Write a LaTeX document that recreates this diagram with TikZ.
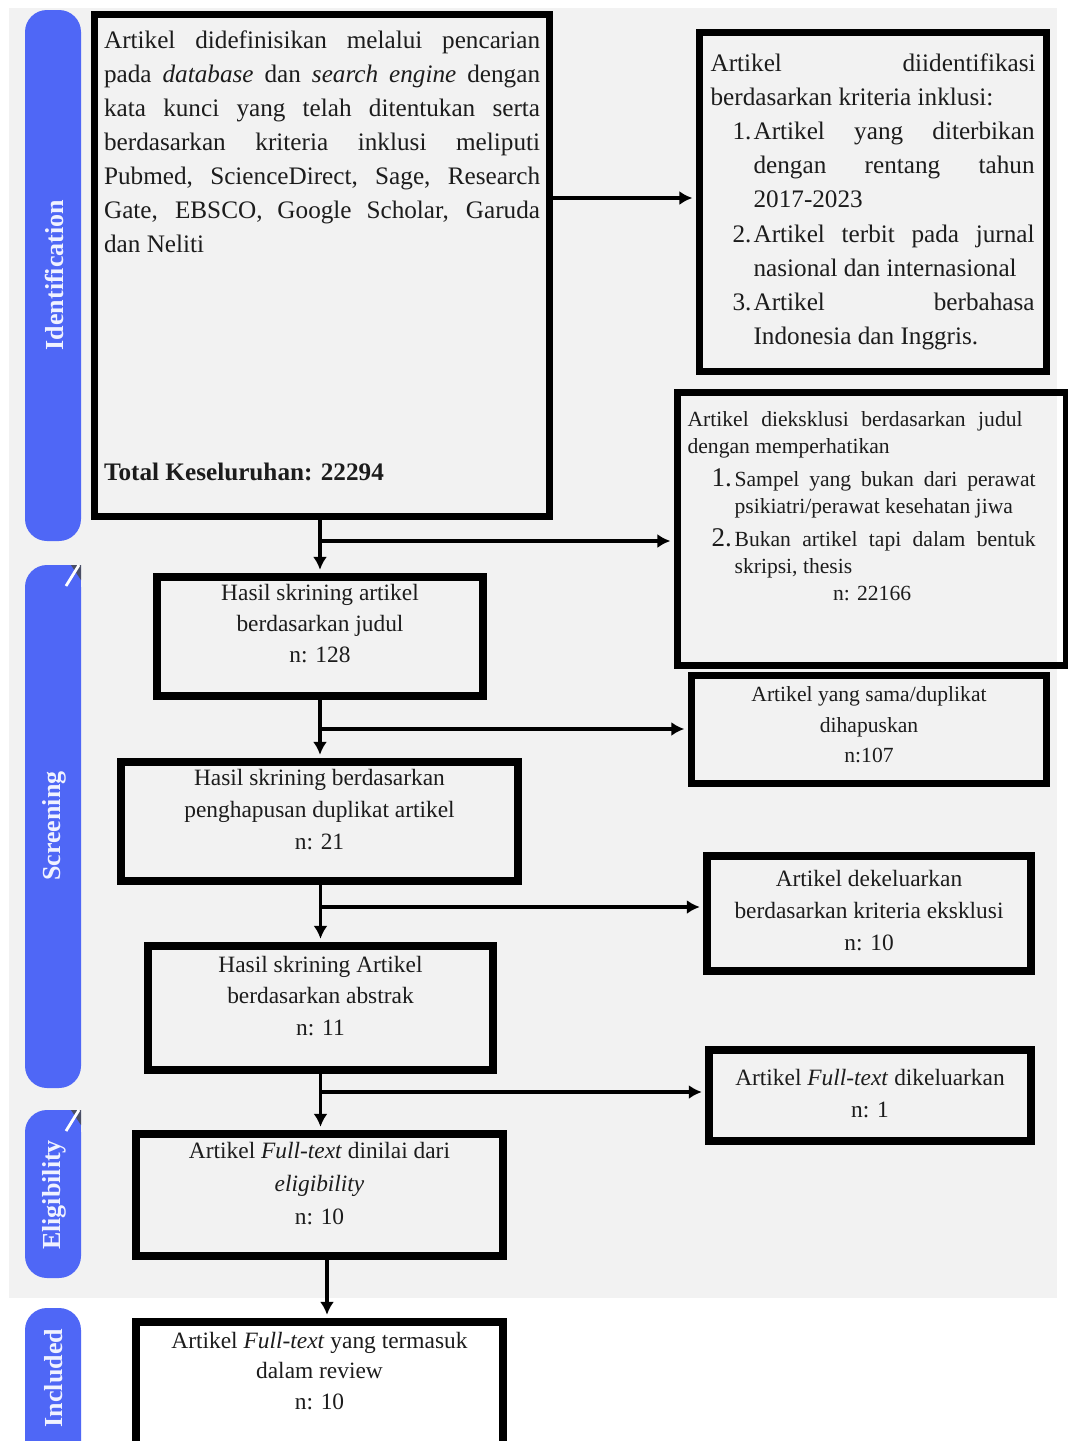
\documentclass[tikz,border=0pt]{standalone}
\usepackage{fontspec}
\setmainfont{Liberation Serif}
\usetikzlibrary{arrows.meta}
\definecolor{bgray}{HTML}{F2F2F2}
\definecolor{barblue}{HTML}{4F67F6}
\definecolor{txt}{HTML}{1C1C1C}
\definecolor{bartxt}{HTML}{F0F2FF}
\definecolor{foldc}{HTML}{4A4E66}
\newcommand\ftx[6]{\parbox[c][#2][c]{#1}{\centering\fontsize{#3}{#4}\selectfont #6\par\vspace{#5}\hrule height 0pt}}
\newcommand\jl[2]{\makebox[#1][s]{#2}}
\begin{document}
\begin{tikzpicture}[x=0.5pt,y=-0.5pt,
  box/.style={draw=black, line width=3.6pt, inner xsep=0pt, inner ysep=0pt, text=txt},
  arr/.style={draw=black, line width=1.6pt, -{Latex[length=6.5pt,width=7pt]}, shorten >=1.8pt},
  bar/.style={fill=barblue, rounded corners=11pt},
  bartext/.style={text=bartxt, font=\fontsize{13pt}{13pt}\selectfont\bfseries, rotate=90, inner sep=0pt},
]
\useasboundingbox (0,0) rectangle (1067,1441);
\fill[white] (0,0) rectangle (1067,1441);
\fill[bgray] (9,8) rectangle (1057,1298);

% phase bars
\fill[bar] (25,10) rectangle (81,541);
\fill[bar] (25,565) rectangle (81,1088);
\fill[barblue] (60,565) rectangle (81,590);
\fill[foldc] (71,565) -- (81,565) -- (81,580) -- cycle;
\draw[white, line width=1.4pt] (66,586) -- (79,565);
\fill[bar] (25,1110) rectangle (81,1278);
\fill[barblue] (60,1110) rectangle (81,1135);
\fill[foldc] (71,1110) -- (81,1110) -- (81,1125) -- cycle;
\draw[white, line width=1.4pt] (66,1131) -- (79,1110);
\fill[bar] (25,1308) rectangle (81,1470);

\node[bartext] (lid) at (54,275) {Identification};
\node[bartext] (lsc) at (54,826) {Screening};
\node[bartext] (lel) at (54,1195) {Eligibility};
\node[bartext] (lin) at (54,1378) {Included};

% box A
\node[box, inner xsep=4.75pt, anchor=north west] (A) at (91,11) {\parbox[c][251pt][t]{218pt}{\fontsize{12.6pt}{17pt}\selectfont\vspace*{7.9pt}%
\jl{\linewidth}{Artikel didefinisikan melalui pencarian}\par
\jl{\linewidth}{pada \textit{database} dan \textit{search engine} dengan}\par
\jl{\linewidth}{kata kunci yang telah ditentukan serta}\par
\jl{\linewidth}{berdasarkan kriteria inklusi meliputi}\par
\jl{\linewidth}{Pubmed, ScienceDirect, Sage, Research}\par
\jl{\linewidth}{Gate, EBSCO, Google Scholar, Garuda}\par
dan Neliti\par
\vspace{97pt}
\textbf{Total Keseluruhan: 22294}}};

% box B
\node[box, inner xsep=5.5pt, anchor=north west] (B) at (696,29) {\parbox[c][169.5pt][t]{162.5pt}{\fontsize{12.6pt}{17.1pt}\selectfont\vspace*{10.4pt}%
\jl{\linewidth}{Artikel diidentifikasi}\par
berdasarkan kriteria inklusi:\par
\hspace*{11pt}\makebox[10.5pt][l]{1.}\jl{140.5pt}{Artikel yang diterbikan}\par
\hspace*{21.5pt}\jl{140.5pt}{dengan rentang tahun}\par
\hspace*{21.5pt}2017-2023\par
\hspace*{11pt}\makebox[10.5pt][l]{2.}\jl{140.5pt}{Artikel terbit pada jurnal}\par
\hspace*{21.5pt}nasional dan internasional\par
\hspace*{11pt}\makebox[10.5pt][l]{3.}\jl{140.5pt}{Artikel berbahasa}\par
\hspace*{21.5pt}Indonesia dan Inggris.}};

% box C
\node[box, inner xsep=5pt, anchor=north west] (C) at (674,389) {\parbox[c][136.5pt][t]{184.5pt}{\fontsize{10.8pt}{13.5pt}\selectfont\vspace*{9.6pt}%
\jl{167.5pt}{Artikel dieksklusi berdasarkan judul}\par
dengan memperhatikan\par
\vspace{3pt}
\hspace*{12pt}\makebox[11.5pt][l]{\fontsize{13.5pt}{14pt}\selectfont 1.}\jl{150.5pt}{Sampel yang bukan dari perawat}\par
\hspace*{23.5pt}psikiatri/perawat kesehatan jiwa\par
\vspace{3pt}
\hspace*{12pt}\makebox[11.5pt][l]{\fontsize{13.5pt}{14pt}\selectfont 2.}\jl{150.5pt}{Bukan artikel tapi dalam bentuk}\par
\hspace*{23.5pt}skripsi, thesis\par
{\centering n: 22166\par}}};

% flow boxes
\node[box] (D) at (320,636.5) {\ftx{163pt}{59.5pt}{11.7pt}{15.5pt}{13pt}{Hasil skrining artikel\\ berdasarkan judul\\ n: 128}};
\node[box] (E) at (869,729.5) {\ftx{177.5pt}{54pt}{10.8pt}{15.25pt}{4.5pt}{Artikel yang sama/duplikat\\ dihapuskan\\ n:107}};
\node[box] (F) at (319.5,821.5) {\ftx{198.5pt}{59.5pt}{11.7pt}{16pt}{12pt}{Hasil skrining berdasarkan\\ penghapusan duplikat artikel\\ n: 21}};
\node[box] (G) at (869,913.5) {\ftx{162pt}{57.5pt}{11.7pt}{16pt}{3pt}{Artikel dekeluarkan\\ berdasarkan kriteria eksklusi\\ n: 10}};
\node[box] (H) at (320.5,1008) {\ftx{172.5pt}{62pt}{11.7pt}{15.75pt}{12pt}{Hasil skrining Artikel\\ berdasarkan abstrak\\ n: 11}};
\node[box] (I) at (870,1095.5) {\ftx{161pt}{45.5pt}{11.7pt}{16pt}{2pt}{Artikel \textit{Full-text} dikeluarkan\\ n: 1}};
\node[box] (J) at (319.5,1195) {\ftx{183.5pt}{61pt}{11.7pt}{16.5pt}{11.5pt}{Artikel \textit{Full-text} dinilai dari\\ \textit{eligibility}\\ n: 10}};
\node[box] (K) at (319.5,1391) {\ftx{183.5pt}{69pt}{11.7pt}{15.25pt}{20pt}{Artikel \textit{Full-text} yang termasuk\\ dalam review\\ n: 10}};

% connectors
\coordinate (yab) at (0,198);
\draw[arr] (yab -| A.east) -- (yab -| B.west);
\draw[arr] (A.south -| D.north) -- (D.north);
\coordinate (b1) at (320,541);
\draw[arr] (b1) -- (b1 -| C.west);
\draw[arr] (D.south) -- (D.south |- F.north);
\coordinate (b2) at (320,729);
\draw[arr] (b2) -- (b2 -| E.west);
\draw[arr] (F.south -| H.north) -- (H.north);
\coordinate (b3) at (321,907);
\draw[arr] (b3) -- (b3 -| G.west);
\draw[arr] (H.south) -- (H.south |- J.north);
\coordinate (b4) at (321,1092);
\draw[arr] (b4) -- (b4 -| I.west);
\coordinate (t5) at (327,0);
\draw[arr] (J.south -| t5) -- (K.north -| t5);
\end{tikzpicture}
\end{document}
